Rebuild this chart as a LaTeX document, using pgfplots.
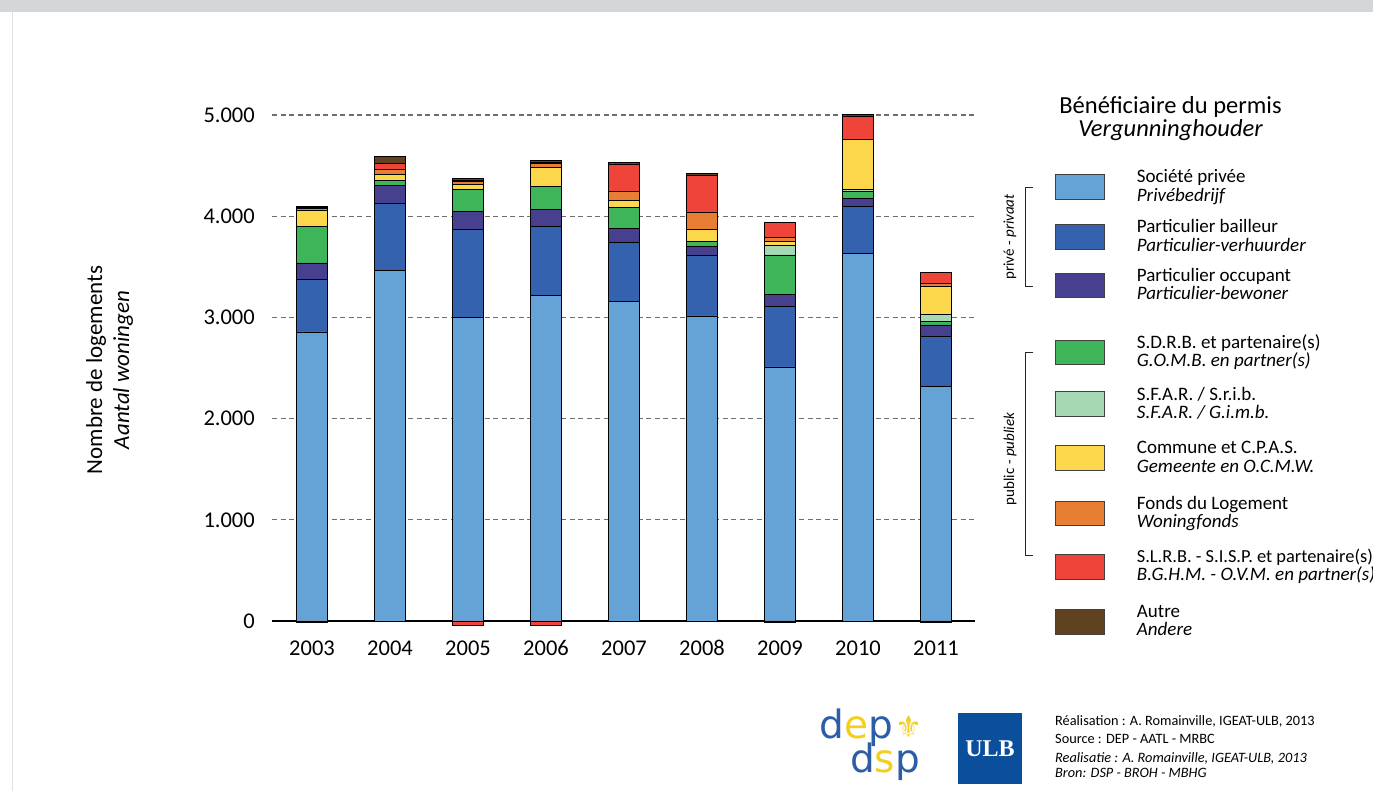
\documentclass[border=0pt]{standalone}
\usepackage{fontspec}
\setmainfont{Carlito}
\newfontfamily\dejavu{DejaVu Sans}
\newfontfamily\serifb{Liberation Serif}
\usepackage{pgfplots}
\pgfplotsset{compat=1.18}
\usepackage{pgfplotstable}

\definecolor{clb}{HTML}{65A3D6}
\definecolor{cdb}{HTML}{3462AE}
\definecolor{cpu}{HTML}{46408E}
\definecolor{cgr}{HTML}{3FB55A}
\definecolor{clg}{HTML}{A6D8B3}
\definecolor{cye}{HTML}{FCD64B}
\definecolor{cor}{HTML}{E87E33}
\definecolor{cre}{HTML}{EF443A}
\definecolor{cbr}{HTML}{5F4320}
\definecolor{bandgray}{HTML}{D3D7D9}
\definecolor{gridgray}{HTML}{6E6E6E}
\definecolor{ulbblue}{HTML}{0B4F9C}
\definecolor{depblue}{HTML}{2E5DA8}
\definecolor{depyellow}{HTML}{F2CF1D}

\pgfplotstableread{
x LB DB PU GR LG YE OR RE BR
0 2856 523 159 365 0 150 25 10 12
1 3468 660 173 50 0 63 49 60 65
2 3004 867 174 221 0 49 30 10 20
3 3221 682 165 224 0 191 40 10 22
4 3162 576 142 204 0 76 82 274 17
5 3014 603 82 53 0 118 165 372 13
6 2510 603 118 386 92 39 44 148 0
7 3630 464 83 72 12 499 0 230 17
8 2322 491 112 33 73 279 27 109 0
}\datatable

\begin{document}
\begin{tikzpicture}
\useasboundingbox (0pt,0pt) rectangle (1373pt,791pt);
\fill[white] (0pt,0pt) rectangle (1373pt,791pt);
\fill[bandgray] (0pt,779pt) rectangle (1373pt,791pt);
\draw[black!12, line width=1pt] (12.5pt,0pt) -- (12.5pt,779pt);

\begin{axis}[
  at={(272pt,163.93pt)}, anchor=south west,
  scale only axis, width=703pt, height=517.1pt,
  xmin=-0.513, xmax=8.5, ymin=-60, ymax=5050,
  ybar stacked, bar width=31pt,
  axis line style={draw=none},
  major tick length=0pt,
  xtick={0,1,2,3,4,5,6,7,8},
  xticklabels={2003,2004,2005,2006,2007,2008,2009,2010,2011},
  ytick={1000,2000,3000,4000,5000},
  yticklabels={1.000,2.000,3.000,4.000,5.000},
  extra y ticks={0}, extra y tick labels={0},
  extra y tick style={ymajorgrids=true, major grid style={solid, black, line width=1.1pt}},
  ymajorgrids,
  major grid style={draw=gridgray, line width=1.1pt, dash pattern=on 5pt off 3.5pt},
  ticklabel style={font=\fontsize{22.5}{26}\selectfont, text=black},
  /pgf/number format/assume math mode=true,
  yticklabel style={anchor=east, inner sep=0pt, xshift=-17pt},
  xticklabel style={anchor=base, inner sep=0pt, yshift=-28pt},
  every axis plot/.append style={draw=black, line width=0.9pt},
]
\addplot[fill=clb] table[x=x,y=LB]{\datatable};
\addplot[fill=cdb] table[x=x,y=DB]{\datatable};
\addplot[fill=cpu] table[x=x,y=PU]{\datatable};
\addplot[fill=cgr] table[x=x,y=GR]{\datatable};
\addplot[fill=clg] table[x=x,y=LG]{\datatable};
\addplot[fill=cye] table[x=x,y=YE]{\datatable};
\addplot[fill=cor] table[x=x,y=OR]{\datatable};
\addplot[fill=cre] table[x=x,y=RE]{\datatable};
\addplot[fill=cbr] table[x=x,y=BR]{\datatable};
\end{axis}

\begin{axis}[
  at={(272pt,163.93pt)}, anchor=south west,
  scale only axis, width=703pt, height=517.1pt,
  xmin=-0.513, xmax=8.5, ymin=-60, ymax=5050,
  hide axis, ybar, bar width=31pt,
  every axis plot/.append style={draw=black, line width=0.9pt},
]
\addplot[fill=cre, bar shift=0pt] coordinates {(0,-15) (2,-45) (3,-45)};
\addplot[fill=cbr, bar shift=0pt] coordinates {(6,-15) (8,-15)};
\end{axis}

% y label
\node[rotate=90, anchor=base] at (102pt,421pt) {\fontsize{23}{27}\selectfont Nombre de logements};
\node[rotate=90, anchor=base] at (129pt,421pt) {\fontsize{23}{27}\selectfont\itshape Aantal woningen};

% legend title
\node[anchor=base] at (1170.5pt,677.7pt) {\fontsize{24.5}{28}\selectfont Bénéficiaire du permis};
\node[anchor=base] at (1170.5pt,654pt) {\fontsize{24.5}{28}\selectfont\itshape Vergunninghouder};

% legend swatches
\begin{scope}[draw=black!75, line width=0.8pt]
\filldraw[fill=clb] (1055.5pt,591.7pt) rectangle (1104pt,616.7pt);
\filldraw[fill=cdb] (1055.5pt,542pt) rectangle (1104pt,566.7pt);
\filldraw[fill=cpu] (1055.5pt,493.3pt) rectangle (1104pt,517.7pt);
\filldraw[fill=cgr] (1055.5pt,426.7pt) rectangle (1104pt,451pt);
\filldraw[fill=clg] (1055.5pt,374.3pt) rectangle (1104pt,399.3pt);
\filldraw[fill=cye] (1055.5pt,321pt) rectangle (1104pt,345.3pt);
\filldraw[fill=cor] (1055.5pt,265.7pt) rectangle (1104pt,290pt);
\filldraw[fill=cre] (1055.5pt,212pt) rectangle (1104pt,237pt);
\filldraw[fill=cbr] (1055.5pt,157pt) rectangle (1104pt,182pt);
\end{scope}

\begin{scope}[every node/.style={anchor=base west, inner sep=0pt, font=\fontsize{19}{22}\selectfont}]
\node at (1136.7pt,608.2pt) {Société privée};
\node at (1136.7pt,589.7pt) {\itshape Privébedrijf};
\node at (1136.7pt,558.35pt) {Particulier bailleur};
\node at (1136.7pt,539.85pt) {\itshape Particulier-verhuurder};
\node at (1136.7pt,509.5pt) {Particulier occupant};
\node at (1136.7pt,491pt) {\itshape Particulier-bewoner};
\node at (1136.7pt,442.85pt) {S.D.R.B. et partenaire(s)};
\node at (1136.7pt,424.35pt) {\itshape G.O.M.B. en partner(s)};
\node at (1136.7pt,390.8pt) {S.F.A.R. / S.r.i.b.};
\node at (1136.7pt,372.3pt) {\itshape S.F.A.R. / G.i.m.b.};
\node at (1136.7pt,337.15pt) {Commune et C.P.A.S.};
\node at (1136.7pt,318.65pt) {\itshape Gemeente en O.C.M.W.};
\node at (1136.7pt,281.85pt) {Fonds du Logement};
\node at (1136.7pt,263.35pt) {\itshape Woningfonds};
\node[font=\fontsize{18.4}{22}\selectfont] at (1136.7pt,228.5pt) {S.L.R.B. - S.I.S.P. et partenaire(s)};
\node at (1136.7pt,210pt) {\itshape B.G.H.M. - O.V.M. en partner(s)};
\node at (1136.7pt,173.5pt) {Autre};
\node at (1136.7pt,155pt) {\itshape Andere};
\end{scope}

% brackets
\draw[black!85, line width=1pt] (1033pt,603.3pt) -- (1025pt,603.3pt) -- (1025pt,504.3pt) -- (1033pt,504.3pt);
\draw[black!85, line width=1pt] (1033pt,438.7pt) -- (1025pt,438.7pt) -- (1025pt,235.3pt) -- (1033pt,235.3pt);
\node[rotate=90] at (1010pt,554pt) {\fontsize{15}{18}\selectfont privé - \textit{privaat}};
\node[rotate=90] at (1010pt,332pt) {\fontsize{15}{18}\selectfont public - \textit{publiek}};

% footer
\begin{scope}[every node/.style={anchor=base west, inner sep=0pt, font=\fontsize{14.3}{16}\selectfont}]
\node at (1055pt,65pt) {Réalisation : A. Romainville, IGEAT-ULB, 2013};
\node at (1055pt,47pt) {Source : DEP - AATL - MRBC};
\node at (1055pt,28pt) {\itshape Realisatie : A. Romainville, IGEAT-ULB, 2013};
\node at (1055pt,13pt) {\itshape Bron: DSP - BROH - MBHG};
\end{scope}

% logos
\fill[ulbblue] (958pt,7pt) rectangle (1022pt,78pt);
\node[text=white] at (990pt,42pt) {\serifb\bfseries\fontsize{24}{28}\selectfont ULB};
\node at (856pt,63pt) {\dejavu\fontsize{39}{44}\selectfont\textcolor{depblue}{d}\textcolor{depyellow}{e}\textcolor{depblue}{p}};
\node at (885pt,29pt) {\dejavu\fontsize{39}{44}\selectfont\textcolor{depblue}{d}\textcolor{depyellow}{s}\textcolor{depblue}{p}};
\node[text=depyellow] at (909pt,64pt) {\dejavu\fontsize{30}{34}\selectfont ⚜};
\end{tikzpicture}
\end{document}
